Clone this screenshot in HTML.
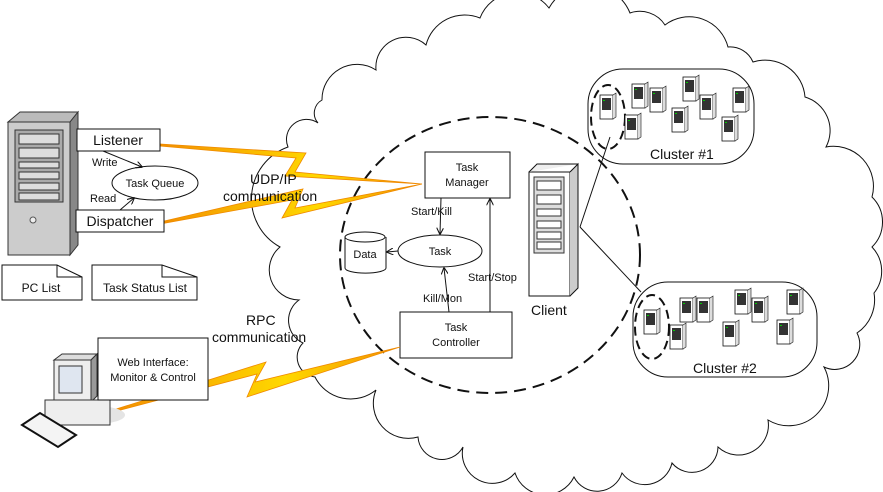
<!DOCTYPE html>
<html><head><meta charset="utf-8"><style>html,body{margin:0;padding:0;background:#fff;overflow:hidden}svg{display:block}text{font-family:"Liberation Sans",sans-serif;fill:#111}</style></head><body>
<svg width="883" height="492" viewBox="0 0 883 492" xmlns="http://www.w3.org/2000/svg">
<defs>
<linearGradient id="bolt" x1="0" y1="0" x2="1" y2="0"><stop offset="0" stop-color="#f29000"/><stop offset="0.6" stop-color="#ffd800"/><stop offset="1" stop-color="#f29000"/></linearGradient>
<marker id="ar" viewBox="0 0 10 10" refX="9" refY="5" markerWidth="7" markerHeight="7" orient="auto"><path d="M0,0 L10,5 L0,10" fill="none" stroke="#111" stroke-width="1.5"/></marker>
<g id="srv"><rect x="0" y="0" width="13" height="24" fill="#fff" stroke="#111" stroke-width="0.8"/><path d="M13,0 l3,-2 v24 l-3,2" fill="#ddd" stroke="#111" stroke-width="0.6"/><rect x="2" y="3" width="9" height="12" fill="#333"/><rect x="3" y="5" width="2" height="1" fill="#0c0"/></g>
</defs>
<!-- cloud -->
<path d="M426,45 A40,40 0 0 1 480,18 A40,40 0 0 1 549,8 A45,45 0 0 1 630,13 A30,30 0 0 1 665,25 A40,40 0 0 1 728,47 A25,25 0 0 1 753,62 A40,40 0 0 1 805,97 A35,35 0 0 1 826,147 A40,40 0 0 1 872,197 A35,35 0 0 1 872,247 A35,35 0 0 1 874,293 A40,40 0 0 1 857,333 A25,25 0 0 1 824,367 A40,40 0 0 1 768,420 A30,30 0 0 1 718,447 A26,26 0 0 1 672,463 A28,28 0 0 1 622,473 A26,26 0 0 1 574,477 A32,32 0 0 1 515,473 A30,30 0 0 1 463,447 A24,24 0 0 1 418,437 A35,35 0 0 1 376,390 A40,40 0 0 1 315,377 A20,20 0 0 1 303,343 A25,25 0 0 1 299,300 A30,30 0 0 1 280,247 A55,55 0 0 1 288,147 A20,20 0 0 1 318,123 A15,15 0 0 1 322,100 A35,35 0 0 1 376,70 A30,30 0 0 1 426,45 Z" fill="#fff" stroke="#111" stroke-width="1"/>
<!-- dashed circle -->
<ellipse cx="490" cy="255" rx="150" ry="138" fill="none" stroke="#111" stroke-width="2" stroke-dasharray="12,7"/>
<!-- clusters -->
<rect x="588" y="69" width="166" height="95" rx="35" fill="#fff" stroke="#111"/>
<rect x="633" y="282" width="184" height="95" rx="35" fill="#fff" stroke="#111"/>
<ellipse cx="608" cy="117" rx="17" ry="32" fill="none" stroke="#111" stroke-width="2" stroke-dasharray="9,5"/>
<ellipse cx="652" cy="327" rx="17" ry="32" fill="none" stroke="#111" stroke-width="2" stroke-dasharray="9,5"/>
<use href="#srv" x="600" y="95"/><use href="#srv" x="625" y="115"/><use href="#srv" x="632" y="84"/><use href="#srv" x="650" y="88"/><use href="#srv" x="672" y="108"/><use href="#srv" x="683" y="77"/><use href="#srv" x="700" y="95"/><use href="#srv" x="722" y="117"/><use href="#srv" x="733" y="88"/>
<use href="#srv" x="644" y="310"/><use href="#srv" x="670" y="325"/><use href="#srv" x="680" y="298"/><use href="#srv" x="697" y="298"/><use href="#srv" x="723" y="322"/><use href="#srv" x="735" y="290"/><use href="#srv" x="752" y="298"/><use href="#srv" x="777" y="320"/><use href="#srv" x="787" y="290"/>
<text x="650" y="159" font-size="14">Cluster #1</text>
<text x="693" y="373" font-size="14">Cluster #2</text>
<line x1="580" y1="227" x2="610" y2="137" stroke="#111"/>
<line x1="580" y1="227" x2="641" y2="292" stroke="#111"/>
<!-- client -->
<rect x="529" y="172" width="41" height="124" fill="#fff" stroke="#111"/>
<path d="M570,172 l8,-8 v124 l-8,8" fill="#ccc" stroke="#111"/>
<path d="M529,172 l8,-8 h41" fill="#eee" stroke="#111"/>
<rect x="534" y="177" width="30" height="76" fill="#ddd" stroke="#333"/>
<rect x="537" y="181" width="24" height="9" fill="#fff" stroke="#333"/><rect x="537" y="195" width="24" height="9" fill="#fff" stroke="#333"/><rect x="537" y="209" width="24" height="7" fill="#fff" stroke="#333"/><rect x="537" y="221" width="24" height="7" fill="#fff" stroke="#333"/><rect x="537" y="232" width="24" height="7" fill="#fff" stroke="#333"/><rect x="537" y="242" width="24" height="7" fill="#fff" stroke="#333"/>
<text x="531" y="315" font-size="14">Client</text>
<!-- inner -->
<rect x="425" y="152" width="85" height="46" fill="#fff" stroke="#111"/>
<text x="467" y="171" font-size="11" text-anchor="middle">Task</text><text x="467" y="186" font-size="11" text-anchor="middle">Manager</text>
<ellipse cx="440" cy="251" rx="42" ry="16" fill="#fff" stroke="#111"/>
<text x="440" y="255" font-size="11" text-anchor="middle">Task</text>
<path d="M345,237 v31 a20,5 0 0 0 41,0 v-31" fill="#fff" stroke="#111"/><ellipse cx="365" cy="237" rx="20" ry="5" fill="#fff" stroke="#111"/>
<text x="365" y="258" font-size="11" text-anchor="middle">Data</text>
<rect x="400" y="312" width="112" height="46" fill="#fff" stroke="#111"/>
<text x="456" y="331" font-size="11" text-anchor="middle">Task</text><text x="456" y="346" font-size="11" text-anchor="middle">Controller</text>
<line x1="441" y1="198" x2="440" y2="234" stroke="#111" marker-end="url(#ar)"/>
<text x="411" y="215" font-size="11">Start/Kill</text>
<line x1="398" y1="251" x2="387" y2="252" stroke="#111" marker-end="url(#ar)"/>
<line x1="449" y1="312" x2="444" y2="268" stroke="#111" marker-end="url(#ar)"/>
<text x="423" y="302" font-size="11">Kill/Mon</text>
<line x1="490" y1="312" x2="490" y2="199" stroke="#111" marker-end="url(#ar)"/>
<text x="468" y="281" font-size="11">Start/Stop</text>
<!-- bolts -->
<polygon points="160,144 306,153 295,172 422,184 285,176 296,158 160,146" fill="url(#bolt)" stroke="#f08a00" stroke-width="0.8"/>
<polygon points="160,222 303,189 295,208 422,184 282,218 292,200 160,224" fill="url(#bolt)" stroke="#f08a00" stroke-width="0.8"/>
<polygon points="113,410 266,362 255,382 400,347 247,397 257,374 113,412" fill="url(#bolt)" stroke="#f08a00" stroke-width="0.8"/>
<text x="250" y="184" font-size="14">UDP/IP</text>
<text x="223" y="201" font-size="14">communication</text>
<text x="246" y="325" font-size="14">RPC</text>
<text x="212" y="342" font-size="14">communication</text>
<!-- left server -->
<path d="M8,122 l12,-10 h58 l-8,10 z" fill="#bbb" stroke="#333"/>
<rect x="8" y="122" width="62" height="133" fill="#ccc" stroke="#333"/>
<path d="M70,122 l8,-10 v133 l-8,10 z" fill="#888" stroke="#333"/>
<rect x="15" y="130" width="48" height="72" fill="#aaa" stroke="#333"/>
<rect x="19" y="134" width="40" height="10" fill="#ddd" stroke="#333"/><rect x="19" y="148" width="40" height="10" fill="#ddd" stroke="#333"/><rect x="19" y="162" width="40" height="6" fill="#ddd" stroke="#333"/><rect x="19" y="172" width="40" height="7" fill="#ddd" stroke="#333"/><rect x="19" y="183" width="40" height="7" fill="#ddd" stroke="#333"/><rect x="19" y="193" width="40" height="7" fill="#ddd" stroke="#333"/>
<circle cx="33" cy="220" r="3" fill="#eee" stroke="#555"/>
<rect x="77" y="129" width="83" height="22" fill="#fff" stroke="#111"/>
<text x="118" y="145" font-size="14" text-anchor="middle">Listener</text>
<rect x="76" y="210" width="88" height="22" fill="#fff" stroke="#111"/>
<text x="120" y="226" font-size="14" text-anchor="middle">Dispatcher</text>
<ellipse cx="155" cy="183" rx="43" ry="17" fill="#fff" stroke="#111"/>
<text x="155" y="187" font-size="11" text-anchor="middle">Task Queue</text>
<line x1="103" y1="151" x2="142" y2="167" stroke="#111" marker-end="url(#ar)"/>
<text x="92" y="166" font-size="11">Write</text>
<line x1="120" y1="210" x2="134" y2="198" stroke="#111" marker-end="url(#ar)"/>
<text x="90" y="202" font-size="11">Read</text>
<path d="M2,265 h55 l25,12 v23 h-80 z" fill="#fff" stroke="#111"/><path d="M57,265 v12 h25" fill="none" stroke="#111"/>
<text x="41" y="292" font-size="12" text-anchor="middle">PC List</text>
<path d="M92,265 h70 l35,12 v23 h-105 z" fill="#fff" stroke="#111"/><path d="M162,265 v12 h35" fill="none" stroke="#111"/>
<text x="145" y="292" font-size="12" text-anchor="middle">Task Status List</text>
<!-- computer -->
<ellipse cx="95" cy="415" rx="30" ry="9" fill="#e4e4e4"/>
<path d="M54,360 l8,-6 h35 l-6,6 z" fill="#ddd" stroke="#333"/>
<rect x="54" y="360" width="37" height="42" fill="#eee" stroke="#333"/>
<rect x="59" y="366" width="23" height="27" fill="#dfe6f0" stroke="#333"/>
<path d="M91,360 l6,-6 v42 l-6,6 z" fill="#999" stroke="#333"/>
<path d="M45,400 h65 v25 h-65 z" fill="#eee" stroke="#333"/>
<path d="M22,425 l18,-12 l36,22 l-18,12 z" fill="#f4f4f4" stroke="#111" stroke-width="2"/>
<rect x="98" y="338" width="110" height="62" fill="#fff" stroke="#111"/>
<text x="153" y="366" font-size="11" text-anchor="middle">Web Interface:</text>
<text x="153" y="381" font-size="11" text-anchor="middle">Monitor &amp; Control</text>
</svg>
</body></html>
